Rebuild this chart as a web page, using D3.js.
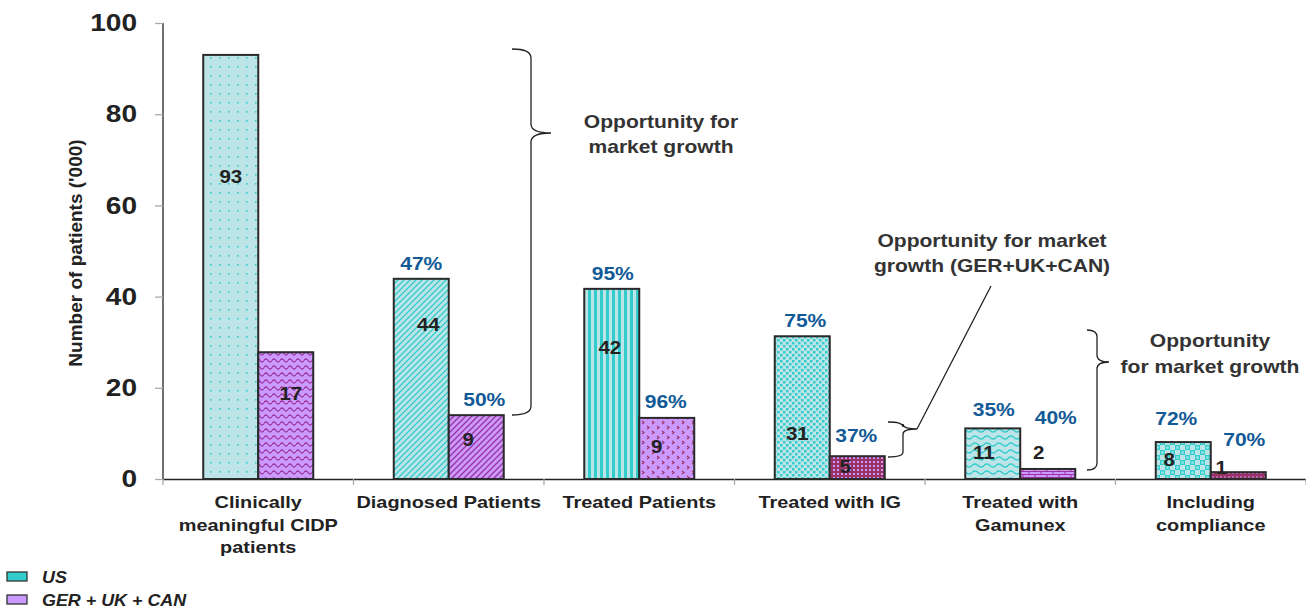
<!DOCTYPE html>
<html>
<head>
<meta charset="utf-8">
<script src="https://cdn.jsdelivr.net/npm/d3@7"></script>
<style>
  html, body { margin: 0; padding: 0; background: #fff; }
  svg { display: block; font-family: "Liberation Sans", Arial, sans-serif; }
</style>
</head>
<body>
<svg id="chart" width="1306" height="614"></svg>
<script>
// ---------------- data ----------------
const categories = [
  "Clinically meaningful CIDP patients",
  "Diagnosed Patients",
  "Treated Patients",
  "Treated with IG",
  "Treated with Gamunex",
  "Including compliance"
];
const categoryLines = [
  ["Clinically", "meaningful CIDP", "patients"],
  ["Diagnosed Patients"],
  ["Treated Patients"],
  ["Treated with IG"],
  ["Treated with", "Gamunex"],
  ["Including", "compliance"]
];
const seriesNames = ["US", "GER + UK + CAN"];
// bar heights as drawn
const usValues  = [93, 43.9, 41.7, 31.3, 11.1, 8.1];
const gerValues = [27.8, 14.0, 13.4, 5.0, 2.2, 1.5];
// printed value labels
const usLabels  = ["93", "44", "42", "31", "11", "8"];
const gerLabels = ["17", "9", "9", "5", "2", "1"];
// conversion percentages
const usPct  = ["", "47%", "95%", "75%", "35%", "72%"];
const gerPct = ["", "50%", "96%", "37%", "40%", "70%"];
const yTicks = [0, 20, 40, 60, 80, 100];
const yTitle = "Number of patients ('000)";
const notes = [
  ["Opportunity for", "market growth"],
  ["Opportunity for market", "growth (GER+UK+CAN)"],
  ["Opportunity", "for market growth"]
];

// ---------------- layout (label placement, in data units / px) ----------------
const usLabelAt  = [66.2, 33.8, 28.7, 9.9, 5.7, 4.2];
const usLabelDx  = [0, 7, -2, -5, -9, -14];
const gerLabelAt = [18.8, 8.6, 7.0, 2.8, 5.7, 2.4];
const gerLabelDx = [5, -8, -10, -12, -9, -17];
const usPctGap   = [0, 9, 9, 9, 12, 17];
const usPctDx    = [0, 0, 1, 3, 1, -7];
const gerPctGap  = [0, 9, 10, 14, 45, 26];
const gerPctDx   = [0, 8, -1, -1, 8, 6];
const SX = 1.17; // horizontal stretch of the original artwork's text

// ---------------- setup ----------------
const svg = d3.select("#chart");
const y = d3.scaleLinear().domain([0, 100]).range([479, 23]);
const x = d3.scaleBand().domain(categories).range([163, 1306]).padding(0);
const groupW = 110;
const xs = d3.scaleBand().domain(seriesNames).range([0, groupW]).padding(0);

function stext(parent, tx, ty, str, size, opts = {}) {
  return parent.append("text")
    .attr("transform", `translate(${tx},${ty}) scale(${opts.sx || SX},1)`)
    .attr("text-anchor", opts.anchor || "middle")
    .attr("font-size", size)
    .attr("font-weight", "bold")
    .attr("font-style", opts.italic ? "italic" : null)
    .attr("dy", opts.dy || null)
    .attr("fill", opts.fill || "#222")
    .text(str);
}

// ---------------- patterns ----------------
const defs = svg.append("defs");
const TQ = "#33cccc", TQL = "#bde4e7", PU = "#cc99ff", PUD = "#993399", MAG = "#993366";
function pat(id, w, h, bg) {
  const p = defs.append("pattern").attr("id", id).attr("patternUnits", "userSpaceOnUse")
    .attr("width", w).attr("height", h);
  p.append("rect").attr("width", w).attr("height", h).attr("fill", bg);
  return p;
}
let p;
p = pat("us0", 9, 9, TQL);
p.append("rect").attr("x", 3).attr("y", 3).attr("width", 1.6).attr("height", 1.6).attr("fill", TQ);
p = pat("us1", 6, 6, TQL);
p.append("path").attr("d", "M-1,7 L7,-1 M-4,4 L4,-4 M2,10 L10,2").attr("stroke", TQ).attr("stroke-width", 1.3);
p = pat("us2", 6, 6, TQL);
p.append("rect").attr("x", 0).attr("y", 0).attr("width", 3).attr("height", 6).attr("fill", TQ);
p = pat("us3", 6, 6, TQL);
p.append("rect").attr("x", 0).attr("y", 0).attr("width", 2.5).attr("height", 2.5).attr("fill", TQ);
p.append("rect").attr("x", 3).attr("y", 3).attr("width", 2.5).attr("height", 2.5).attr("fill", TQ);
p = pat("us4", 12, 7, TQL);
p.append("path").attr("d", "M0,3.5 Q3,0.5 6,3.5 T12,3.5").attr("fill", "none").attr("stroke", TQ).attr("stroke-width", 1.4);
p = pat("us5", 10, 10, TQL);
p.append("rect").attr("width", 5).attr("height", 5).attr("fill", TQ);
p.append("rect").attr("x", 5).attr("y", 5).attr("width", 5).attr("height", 5).attr("fill", TQ);
p.append("circle").attr("cx", 2.5).attr("cy", 2.5).attr("r", 1.5).attr("fill", "#8fe3e3");
p.append("circle").attr("cx", 7.5).attr("cy", 7.5).attr("r", 1.5).attr("fill", "#8fe3e3");
p = pat("ger0", 8, 7, PU);
p.append("path").attr("d", "M0,3.5 Q2,0.5 4,3.5 T8,3.5").attr("fill", "none").attr("stroke", PUD).attr("stroke-width", 1.3);
p = pat("ger1", 6, 6, PU);
p.append("path").attr("d", "M-1,7 L7,-1 M-4,4 L4,-4 M2,10 L10,2").attr("stroke", PUD).attr("stroke-width", 1.3);
p = pat("ger2", 10, 10, PU);
p.append("path").attr("d", "M2,1 L4,2.5 L2,4 M7,6 L9,7.5 L7,9").attr("fill", "none").attr("stroke", MAG).attr("stroke-width", 1.2);
p = pat("ger3", 4, 4, MAG);
p.append("rect").attr("x", 1).attr("y", 1).attr("width", 2).attr("height", 2).attr("fill", PU);
p = pat("ger4", 12, 6, PU);
p.append("path").attr("d", "M0,0.5 H12 M0,3.5 H12 M3,0.5 V3.5 M9,3.5 V6.5").attr("stroke", PUD).attr("stroke-width", 1);
p = pat("ger5", 4, 4, MAG);
p.append("rect").attr("x", 0).attr("y", 0).attr("width", 2).attr("height", 2).attr("fill", "#b366b3");

// ---------------- axes ----------------
const yAxis = d3.axisLeft(y).tickValues(yTicks).tickSize(8).tickPadding(18);
const gy = svg.append("g").attr("transform", "translate(163,0)").call(yAxis);
gy.select(".domain").attr("stroke", "#222").attr("stroke-width", 1.3).attr("d", "M0,23V479");
gy.selectAll(".tick line").attr("stroke", "#aaa").attr("stroke-width", 1.3);
gy.selectAll(".tick text").each(function () {
  const t = d3.select(this);
  const tx = +t.attr("x");
  t.attr("x", 0).attr("transform", `translate(${tx},0) scale(${SX},1)`);
}).attr("font-size", 24).attr("font-weight", "bold")
  .attr("fill", "#222").attr("font-family", "'Liberation Sans', Arial, sans-serif");

const xAxis = d3.axisBottom(x).tickSize(0).tickFormat("");
const gx = svg.append("g").attr("transform", "translate(0,479)").call(xAxis);
gx.select(".domain").attr("stroke", "#222").attr("stroke-width", 1.3);
const bounds = categories.map(c => x(c)).concat([x.range()[1]]);
svg.append("g").selectAll("line").data(bounds).join("line")
  .attr("x1", d => d).attr("x2", d => d)
  .attr("y1", 479).attr("y2", 485).attr("stroke", "#aaa").attr("stroke-width", 1.3);

// category labels
const catG = svg.append("g");
categories.forEach((c, i) => {
  categoryLines[i].forEach((ln, j) => {
    stext(catG, x(c) + x.bandwidth() / 2, 508 + j * 22.5, ln, 17);
  });
});

// y title
svg.append("text")
  .attr("transform", "translate(75.5,253) rotate(-90)")
  .attr("text-anchor", "middle")
  .attr("font-size", 19).attr("font-weight", "bold").attr("fill", "#222")
  .attr("dy", "0.35em")
  .text(yTitle);

// ---------------- bars ----------------
const barG = svg.append("g");
const series = [
  { name: seriesNames[0], values: usValues, labels: usLabels, pct: usPct, pre: "us",
    labAt: usLabelAt, labDx: usLabelDx, pctGap: usPctGap, pctDx: usPctDx },
  { name: seriesNames[1], values: gerValues, labels: gerLabels, pct: gerPct, pre: "ger",
    labAt: gerLabelAt, labDx: gerLabelDx, pctGap: gerPctGap, pctDx: gerPctDx }
];
series.forEach(s => {
  barG.selectAll(null).data(categories).join("rect")
    .attr("x", c => x(c) + (x.bandwidth() - groupW) / 2 + xs(s.name))
    .attr("y", (c, i) => y(s.values[i]))
    .attr("width", xs.bandwidth())
    .attr("height", (c, i) => y(0) - y(s.values[i]))
    .attr("fill", (c, i) => `url(#${s.pre}${i})`)
    .attr("stroke", "#2a2a2a").attr("stroke-width", 2);
});
// value labels
const labG = svg.append("g");
series.forEach(s => {
  categories.forEach((c, i) => {
    const bx = x(c) + (x.bandwidth() - groupW) / 2 + xs(s.name) + xs.bandwidth() / 2;
    stext(labG, bx + s.labDx[i], y(s.labAt[i]), s.labels[i], 17.5, { dy: "0.36em" });
    if (s.pct[i]) {
      stext(labG, bx + s.pctDx[i], y(s.values[i]) - s.pctGap[i], s.pct[i], 18, { fill: "#125a96" });
    }
  });
});

// ---------------- annotations ----------------
const annG = svg.append("g").attr("fill", "none").attr("stroke", "#222").attr("stroke-width", 1.3);
function brace(x0, xm, xt, yTop, yMid, yBot, r) {
  return `M${x0},${yTop} Q${xm},${yTop} ${xm},${yTop + r} L${xm},${yMid - r} Q${xm},${yMid} ${xt},${yMid}` +
         ` Q${xm},${yMid} ${xm},${yMid + r} L${xm},${yBot - r} Q${xm},${yBot} ${x0},${yBot}`;
}
annG.append("path").attr("d", brace(512, 531, 551, 49, 133, 415, 9));
annG.append("path").attr("d", brace(888, 903, 917, 422, 429, 457, 5));
annG.append("path").attr("d", brace(1087, 1097, 1109, 330, 362, 470, 7));
annG.append("line").attr("x1", 917).attr("y1", 429).attr("x2", 991).attr("y2", 286);

const noteG = svg.append("g");
const notePos = [[661, 128, 25], [992, 247, 25], [1210, 347, 26]];
notes.forEach((lines, k) => {
  lines.forEach((ln, j) => stext(noteG, notePos[k][0], notePos[k][1] + j * notePos[k][2], ln, 18, { fill: "#333" }));
});

// ---------------- legend ----------------
const leg = svg.append("g");
const legFill = ["#33cccc", "#cc99ff"];
seriesNames.forEach((n, i) => {
  leg.append("rect").attr("x", 7).attr("y", 572 + i * 23).attr("width", 20).attr("height", 9)
    .attr("fill", legFill[i]).attr("stroke", "#333").attr("stroke-width", 1.3);
  stext(leg, 42, 583 + i * 23, n, 16, { anchor: "start", italic: true, sx: 1.12 });
});
</script>
</body>
</html>
